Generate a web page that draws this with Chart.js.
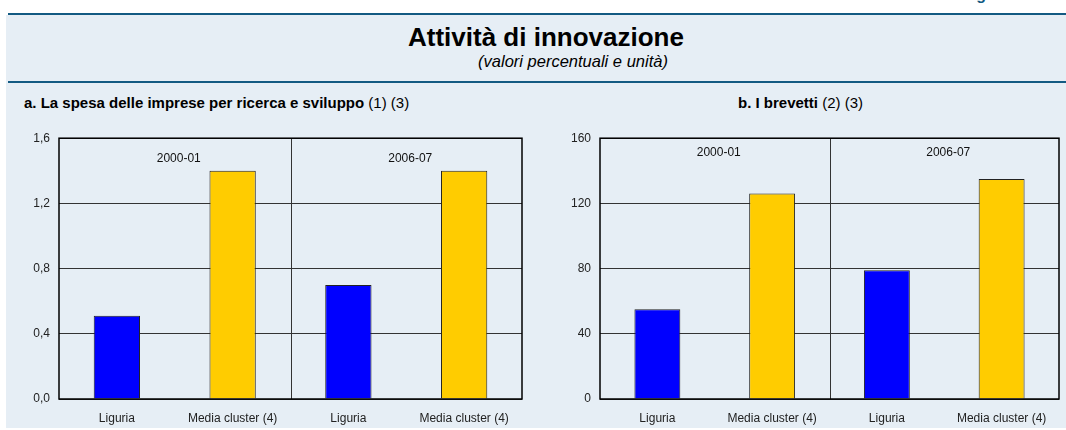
<!DOCTYPE html>
<html>
<head>
<meta charset="UTF-8">
<title>Attività di innovazione</title>
<script src="https://cdn.jsdelivr.net/npm/chart.js"></script>
<style>
  body { margin: 0; width: 1066px; height: 430px; background: #fff; overflow: hidden; position: relative; font-family: Arial, "Liberation Sans", sans-serif; }
  #fig { position: absolute; left: 962px; top: -14px; font-size: 16px; font-weight: bold; color: #135a82; }
  #panel { position: absolute; left: 6px; top: 15px; width: 1060px; height: 413px; background: #e6eef5; }
  .rule { position: absolute; left: 8px; right: 0; height: 2px; background: #135a82; }
  #title { position: absolute; left: 0; width: 1092px; top: 22px; text-align: center; font-size: 26px; font-weight: bold; color: #000; }
  #sub { position: absolute; left: 0; width: 1146px; top: 52px; text-align: center; font-size: 16.5px; font-style: italic; color: #000; }
  .ptitle { position: absolute; top: 94px; font-size: 15px; color: #000; white-space: nowrap; }
  .ptitle b { font-weight: bold; }
  .box { position: absolute; top: 122px; height: 305px; }
</style>
</head>
<body>
<div id="fig">Figura</div>
<div id="panel"></div>
<div class="rule" style="top:13px"></div>
<div class="rule" style="top:81px"></div>
<div id="title">Attività di innovazione</div>
<div id="sub">(valori percentuali e unità)</div>
<div class="ptitle" style="left:24px"><b>a. La spesa delle imprese per ricerca e sviluppo</b> (1) (3)</div>
<div class="ptitle" style="left:738px"><b>b. I brevetti</b> (2) (3)</div>
<div class="box" style="left:10px;width:520px"><canvas id="chartA" width="520" height="305"></canvas></div>
<div class="box" style="left:550px;width:516px"><canvas id="chartB" width="516" height="305"></canvas></div>
<script>
var categories = ['Liguria', 'Media cluster (4)', 'Liguria', 'Media cluster (4)'];
var periods = ['2000-01', '2006-07'];
// a. spesa R&S (valori percentuali)
var spesaRS = [0.51, 1.40, 0.70, 1.40];
// b. brevetti (unità)
var brevetti = [55, 126, 79, 135];
var barColors = ['#0000ff', '#ffcc00', '#0000ff', '#ffcc00'];

var fontFamily = 'Arial, "Liberation Sans", sans-serif';

// bordo, separatore tra periodi ed etichette dei periodi
var framePlugin = {
    id: 'frame',
    afterDraw: function(chart, args, opts) {
        var ctx = chart.ctx;
        var a = chart.chartArea;
        var x = chart.scales.x;
        ctx.save();
        // separatore fra i due periodi
        var mid = (x.getPixelForValue(1) + x.getPixelForValue(2)) / 2;
        ctx.strokeStyle = '#333';
        ctx.lineWidth = 1;
        ctx.beginPath();
        ctx.moveTo(Math.round(mid) + 0.5, a.top);
        ctx.lineTo(Math.round(mid) + 0.5, a.bottom);
        ctx.stroke();
        // cornice
        ctx.strokeStyle = '#000';
        ctx.lineWidth = 1.5;
        ctx.strokeRect(a.left, a.top, a.right - a.left, a.bottom - a.top);
        // etichette dei periodi
        ctx.fillStyle = '#111';
        ctx.font = '12px ' + fontFamily;
        ctx.textAlign = 'center';
        ctx.textBaseline = 'middle';
        for (var i = 0; i < periods.length; i++) {
            var cx = (x.getPixelForValue(i * 2) + x.getPixelForValue(i * 2 + 1)) / 2;
            ctx.fillText(periods[i], cx + 4, a.top + (opts.labelOffset || 20));
        }
        ctx.restore();
    }
};

function makeChart(id, values, maxY, step, fmt, pad, yWidth, labelOffset) {
    return new Chart(document.getElementById(id).getContext('2d'), {
        type: 'bar',
        data: {
            labels: categories,
            datasets: [{
                data: values,
                backgroundColor: barColors,
                borderColor: '#222',
                borderWidth: 1,
                categoryPercentage: 0.8,
                barPercentage: 0.5
            }]
        },
        options: {
            responsive: false,
            animation: false,
            layout: { padding: pad },
            plugins: {
                legend: { display: false },
                tooltip: { enabled: false },
                frame: { labelOffset: labelOffset }
            },
            scales: {
                x: {
                    grid: { display: false, drawTicks: false },
                    border: { display: false },
                    ticks: { color: '#222', font: { family: fontFamily, size: 12 }, padding: 12, maxRotation: 0 },
                    afterFit: function(s) { s.height = 28; }
                },
                y: {
                    min: 0, max: maxY,
                    grid: { color: '#333', lineWidth: 1, drawTicks: false },
                    border: { display: false },
                    ticks: {
                        stepSize: step,
                        color: '#222',
                        padding: 9,
                        font: { family: fontFamily, size: 12 },
                        callback: fmt
                    },
                    afterFit: function(s) { s.width = yWidth; }
                }
            }
        },
        plugins: [framePlugin]
    });
}

makeChart('chartA', spesaRS, 1.6, 0.4,
    function(v) { return v.toFixed(1).replace('.', ','); },
    { top: 10, right: 8, left: 0, bottom: 0 }, 49, 20);
makeChart('chartB', brevetti, 160, 40,
    function(v) { return String(v); },
    { top: 16, right: 7, left: 0, bottom: 0 }, 50, 14.5);
</script>
</body>
</html>
